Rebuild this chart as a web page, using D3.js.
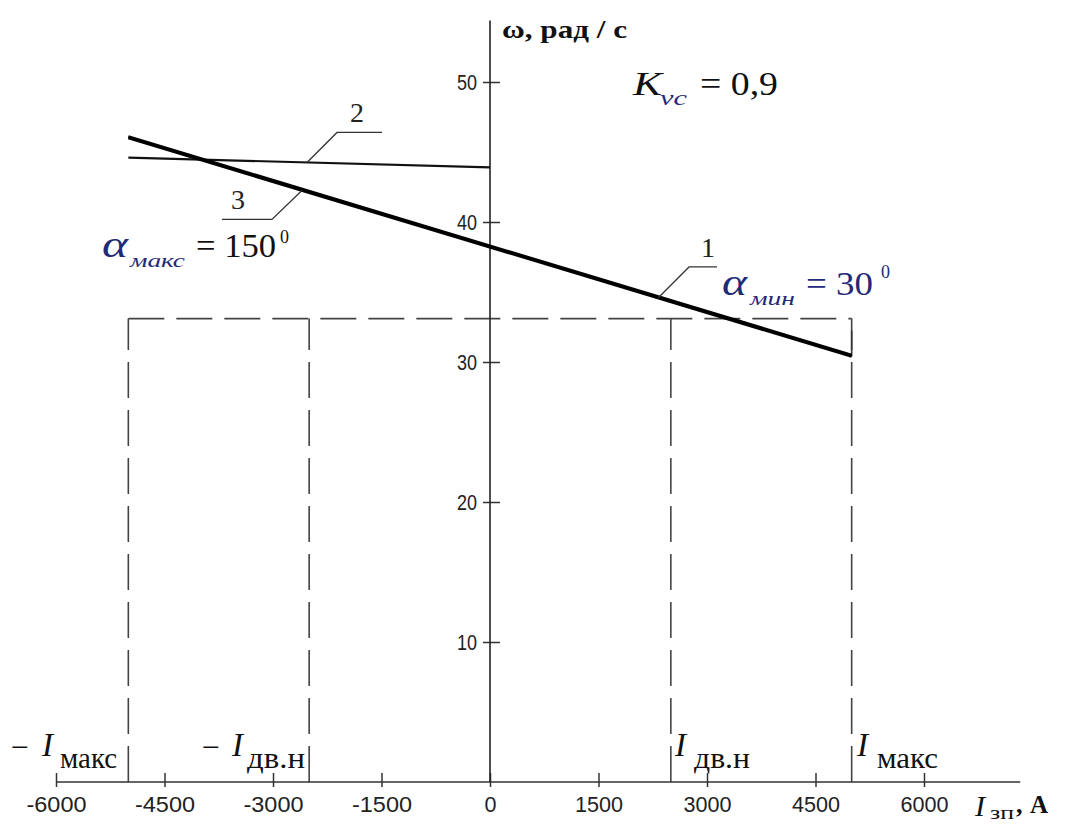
<!DOCTYPE html>
<html>
<head>
<meta charset="utf-8">
<script src="https://cdn.jsdelivr.net/npm/d3@7"></script>
<style>
    body { margin: 0; background: #fff; }
    svg { display: block; }
</style>
</head>
<body>
<div id="chart"></div>
<script>
// values
const xTicks = [-6000, -4500, -3000, -1500, 0, 1500, 3000, 4500, 6000];
const yTicks = [10, 20, 30, 40, 50];

const curve1 = [{i: -5000, w: 46.0}, {i: 5000, w: 30.4}];
const curve3 = [{i: -5000, w: 46.1}, {i: 5000, w: 30.5}];
const curve2 = [{i: -5000, w: 44.6}, {i: 0, w: 43.9}];

const wLimit = 33.1;
const iLimits = [-5000, -2500, 2500, 5000];

// leader labels: anchor point on the curve in data units
const leaders = [
    {name: "1", i: 2323, curve: curve1, dx: 31, dy: -31, run: 28, tx: 19},
    {name: "2", i: -2530, curve: curve2, dx: 30, dy: -30, run: 45, tx: 20},
    {name: "3", i: -2600, curve: curve1, dx: -30, dy: 29, run: -50, tx: -34}
];

const SERIF = "Liberation Serif, Times New Roman, serif";
const SANS = "Liberation Sans, Arial, sans-serif";

function valueAt(curve, i) {
    var a = curve[0], b = curve[curve.length - 1];
    return a.w + (b.w - a.w) * (i - a.i) / (b.i - a.i);
}

function drawChart() {
    var width = 1068, height = 825;

    var x = d3.scaleLinear().domain([-6000, 6000]).range([56, 924]);
    var y = d3.scaleLinear().domain([0, 50]).range([782, 82]);

    var svg = d3.select("#chart")
                .append("svg")
                .attr("width", width)
                .attr("height", height);

    // dashed limit lines
    var dash = svg.append("g")
                .attr("stroke", "#444")
                .attr("stroke-width", 1.6)
                .attr("stroke-dasharray", "36,12")
                .attr("fill", "none");

    dash.append("line")
        .attr("x1", x(iLimits[0])).attr("x2", x(iLimits[3]))
        .attr("y1", y(wLimit)).attr("y2", y(wLimit));

    dash.selectAll("vlines")
        .data(iLimits)
        .enter()
        .append("line")
        .attr("x1", function(d) { return x(d); })
        .attr("x2", function(d) { return x(d); })
        .attr("y1", y(0))
        .attr("y2", y(wLimit));

    // short solid piece at I_max up to the curve end
    svg.append("line")
        .attr("x1", x(5000)).attr("x2", x(5000))
        .attr("y1", y(wLimit) + 12).attr("y2", y(valueAt(curve1, 5000)))
        .attr("stroke", "#333").attr("stroke-width", 1.6);

    // axes
    var xAxis = d3.axisBottom(x).tickValues(xTicks).tickSize(0).tickPadding(14);
    var gx = svg.append("g")
                .attr("transform", "translate(0," + y(0) + ")")
                .call(xAxis);
    gx.select(".domain").remove();
    gx.selectAll(".tick line")
      .attr("y1", -9).attr("y2", 5)
      .attr("stroke", "#333").attr("stroke-width", 1.5);
    gx.selectAll(".tick text")
      .attr("font-family", SANS)
      .attr("font-size", 22)
      .attr("fill", "#222")
      .text(function(d) { return d; })
      .attr("textLength", function(d) { return String(d).length * 12; })
      .attr("lengthAdjust", "spacingAndGlyphs");

    svg.append("line")
        .attr("x1", x(-6000)).attr("x2", x(7330))
        .attr("y1", y(0)).attr("y2", y(0))
        .attr("stroke", "#333").attr("stroke-width", 1.5);

    var yAxis = d3.axisLeft(y).tickValues(yTicks).tickSize(0).tickPadding(13);
    var gy = svg.append("g")
                .attr("transform", "translate(" + x(0) + ",0)")
                .call(yAxis);
    gy.select(".domain").remove();
    gy.selectAll(".tick line")
      .attr("x1", -7).attr("x2", 10)
      .attr("stroke", "#333").attr("stroke-width", 1.5);
    gy.selectAll(".tick text")
      .attr("font-family", SANS)
      .attr("font-size", 22)
      .attr("fill", "#222")
      .attr("textLength", 20)
      .attr("lengthAdjust", "spacingAndGlyphs");

    svg.append("line")
        .attr("x1", x(0)).attr("x2", x(0))
        .attr("y1", y(0)).attr("y2", y(54.4))
        .attr("stroke", "#222").attr("stroke-width", 1.6);

    // curves
    var line = d3.line()
                .x(function(d) { return x(d.i); })
                .y(function(d) { return y(d.w); });

    svg.append("path").datum(curve2)
        .attr("d", line).attr("fill", "none")
        .attr("stroke", "#111").attr("stroke-width", 2.2);

    svg.append("path").datum(curve1)
        .attr("d", line).attr("fill", "none")
        .attr("stroke", "#000").attr("stroke-width", 2.8);

    svg.append("path").datum(curve3)
        .attr("d", line).attr("fill", "none")
        .attr("stroke", "#000").attr("stroke-width", 2.8);

    // leader lines with numbers
    leaders.forEach(function(l) {
        var px = x(l.i), py = y(valueAt(l.curve, l.i));
        var kx = px + l.dx, ky = py + l.dy;
        svg.append("polyline")
            .attr("points", [px, py, kx, ky, kx + l.run, ky].join(","))
            .attr("fill", "none")
            .attr("stroke", "#333")
            .attr("stroke-width", 1.3);
        svg.append("text")
            .attr("x", kx + l.tx)
            .attr("y", ky - 10)
            .attr("text-anchor", "middle")
            .attr("font-family", SERIF)
            .attr("font-size", 28)
            .attr("fill", "#222")
            .text(l.name);
    });

    // text helper
    function label(txt, px, py, size, opts) {
        opts = opts || {};
        var t = svg.append("text")
            .attr("x", px).attr("y", py)
            .attr("font-family", SERIF)
            .attr("font-size", size)
            .attr("fill", opts.color || "#111")
            .text(txt);
        if (opts.italic) t.attr("font-style", "italic");
        if (opts.bold) t.attr("font-weight", "bold");
        if (opts.len) {
            t.attr("textLength", opts.len).attr("lengthAdjust", "spacingAndGlyphs");
        }
        return t;
    }

    var navy = "#1f2a78";

    // y axis title
    label("ω, рад / с", 502, 38, 26, {bold: true, len: 125});

    // K_vc
    label("K", 633, 95, 34, {italic: true, len: 29});
    label("vc", 660, 105, 22, {italic: true, color: navy, len: 27});
    label("= 0,9", 700, 95, 33, {len: 78});

    // alpha max
    label("α", 102, 257, 38, {italic: true, color: navy, len: 26});
    label("макс", 130, 267, 19, {italic: true, color: navy, len: 55});
    label("= 150", 196, 257, 33, {len: 80});
    label("0", 280, 243, 18);

    // alpha min
    label("α", 722, 295, 38, {italic: true, color: navy, len: 25});
    label("мин", 750, 305, 19, {italic: true, color: navy, len: 45});
    label("= 30", 806, 295, 33, {color: navy, len: 67});
    label("0", 881, 278, 18, {color: navy});

    // current markers
    label("−", 11, 757, 30, {len: 18});
    label("I", 42, 756, 33, {italic: true});
    label("макс", 60, 768, 29, {len: 57});

    label("−", 202, 757, 30, {len: 18});
    label("I", 232, 756, 33, {italic: true});
    label("дв.н", 247, 768, 29, {len: 58});

    label("I", 675, 756, 33, {italic: true});
    label("дв.н", 694, 768, 29, {len: 56});

    label("I", 857, 756, 33, {italic: true});
    label("макс", 877, 768, 29, {len: 61});

    // x axis title
    label("I", 975, 816, 30, {italic: true});
    label("зп", 990, 819, 19, {len: 24});
    label(",", 1016, 813, 26, {bold: true});
    label("A", 1030, 813, 25, {bold: true});
}

drawChart();
</script>
</body>
</html>
